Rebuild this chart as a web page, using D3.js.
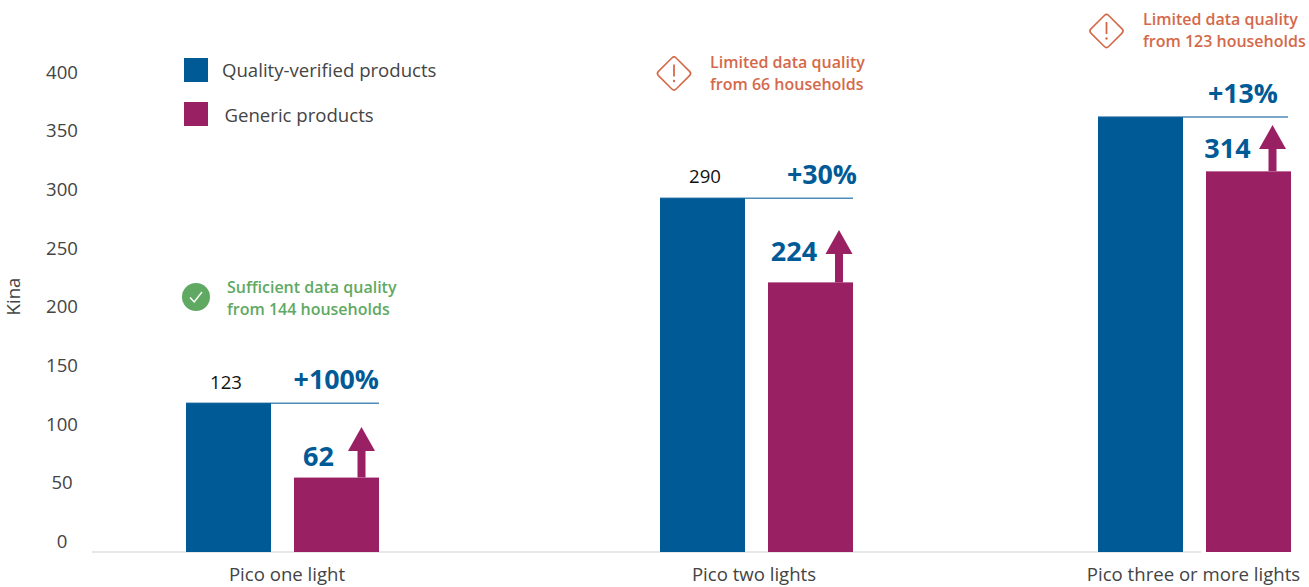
<!DOCTYPE html>
<html>
<head>
<meta charset="utf-8">
<script src="https://cdn.jsdelivr.net/npm/d3@7"></script>
<style>
  html, body { margin: 0; padding: 0; background: #fff; }
  svg { display: block; }
  text { font-family: "Open Sans", sans-serif; }
</style>
</head>
<body>
<svg id="chart" width="1309" height="587"></svg>
<script>
// values
var categories = ["Pico one light", "Pico two lights", "Pico three or more lights"];
var seriesNames = ["Quality-verified products", "Generic products"];
var qualityBars = [122, 290, 356.5];
var genericBars = [61, 221, 312];
var arrowTips = [102.5, 264, 350];
var qualityLabels = ["123", "290", ""];
var genericLabels = ["62", "224", "314"];
var upliftLabels = ["+100%", "+30%", "+13%"];
var tickValues = [0, 50, 100, 150, 200, 250, 300, 350, 400];
var noteLines = [
    ["Sufficient data quality", "from 144 households"],
    ["Limited data quality", "from 66 households"],
    ["Limited data quality", "from 123 households"]
];
var noteKinds = ["ok", "limited", "limited"];

var blue = "#005a96",
    purple = "#9a2064",
    green = "#5fa963",
    orange = "#d4694a",
    textColor = "#444";

var svg = d3.select("#chart");

// group positions are not evenly spaced in the original
var x0 = d3.scaleOrdinal().domain(categories).range([186, 660, 1098]);
var x1 = d3.scaleBand().domain(seriesNames).range([0, 193]).paddingInner(23 / 108);
var y = d3.scaleLinear().domain([0, 400]).range([552, 64]);
// the printed tick labels sit on their own spacing, offset from the baseline
var yTicks = d3.scaleLinear().domain([0, 400]).range([541.4, 72.4]);
var labelX = d3.scaleOrdinal().domain(categories).range([287, 754, 1193.5]);

// y axis labels
var yAxis = svg.append("g")
    .attr("transform", "translate(62,0)")
    .call(d3.axisLeft(yTicks).tickValues(tickValues).tickSize(0));
yAxis.select(".domain").remove();
yAxis.selectAll("text")
    .attr("x", 0)
    .attr("text-anchor", "middle")
    .style("font-family", "'Open Sans', sans-serif")
    .style("font-size", "18.6px")
    .style("fill", textColor);

svg.append("text")
    .attr("transform", "translate(20,296.5) rotate(-90)")
    .attr("text-anchor", "middle")
    .style("font-size", "18.6px")
    .style("fill", textColor)
    .text("Kina");

// baseline, stops short of the last generic bar
svg.append("line")
    .attr("x1", 92).attr("x2", 1201)
    .attr("y1", y(0)).attr("y2", y(0))
    .style("stroke", "#dfe1e4")
    .style("stroke-width", 1.5);

// x axis labels
svg.selectAll(".cat")
    .data(categories)
    .enter().append("text")
    .attr("class", "cat")
    .attr("x", function(d) { return labelX(d); })
    .attr("y", 581)
    .attr("text-anchor", "middle")
    .style("font-size", "18.6px")
    .style("fill", textColor)
    .text(function(d) { return d; });

// reference line level with the blue bar
svg.selectAll(".refline")
    .data(categories)
    .enter().append("line")
    .attr("class", "refline")
    .attr("x1", function(d) { return x0(d); })
    .attr("x2", function(d, i) { return x0(d) + (i == 2 ? 190 : 193); })
    .attr("y1", function(d, i) { return y(qualityBars[i]); })
    .attr("y2", function(d, i) { return y(qualityBars[i]); })
    .style("stroke", "#4f8bb8")
    .style("stroke-width", 1.5);

// bars
svg.selectAll(".bar-quality")
    .data(qualityBars)
    .enter().append("rect")
    .attr("class", "bar-quality")
    .attr("x", function(d, i) { return x0(categories[i]) + x1(seriesNames[0]); })
    .attr("y", function(d) { return y(d); })
    .attr("width", x1.bandwidth())
    .attr("height", function(d) { return y(0) - y(d); })
    .style("fill", blue);

svg.selectAll(".bar-generic")
    .data(genericBars)
    .enter().append("rect")
    .attr("class", "bar-generic")
    .attr("x", function(d, i) { return x0(categories[i]) + x1(seriesNames[1]); })
    .attr("y", function(d) { return y(d); })
    .attr("width", x1.bandwidth())
    .attr("height", function(d) { return y(0) - y(d); })
    .style("fill", purple);

// arrows from the top of the generic bar, right end of the bar
var arrowLine = d3.line();
svg.selectAll(".arrow")
    .data(arrowTips)
    .enter().append("path")
    .attr("class", "arrow")
    .attr("d", function(d, i) {
        var cx = x0(categories[i]) + x1(seriesNames[1]) + [67.5, 71, 66.5][i];
        var tip = y(d), base = y(genericBars[i]), neck = tip + 24;
        return arrowLine([[cx, tip], [cx + 13.5, neck], [cx + 4, neck], [cx + 4, base],
                          [cx - 4, base], [cx - 4, neck], [cx - 13.5, neck]]) + "Z";
    })
    .style("fill", purple);

// labels over the bars
svg.selectAll(".qlabel")
    .data(qualityLabels)
    .enter().append("text")
    .attr("class", "qlabel")
    .attr("x", function(d, i) { return x0(categories[i]) + [40, 45, 41][i]; })
    .attr("y", function(d, i) { return y(qualityBars[i]) - [14, 15, 14][i]; })
    .attr("text-anchor", "middle")
    .style("font-size", "18.6px")
    .style("fill", "#111")
    .text(function(d) { return d; });

svg.selectAll(".glabel")
    .data(genericLabels)
    .enter().append("text")
    .attr("class", "glabel")
    .attr("x", function(d, i) { return x0(categories[i]) + [132.5, 134, 129.5][i]; })
    .attr("y", function(d, i) { return y(genericBars[i]) - [12, 21, 13][i]; })
    .attr("text-anchor", "middle")
    .style("font-size", "27px")
    .style("font-weight", 700)
    .style("fill", blue)
    .text(function(d) { return d; });

svg.selectAll(".uplift")
    .data(upliftLabels)
    .enter().append("text")
    .attr("class", "uplift")
    .attr("x", function(d, i) { return x0(categories[i]) + [193, 197, 180][i]; })
    .attr("y", function(d, i) { return y(qualityBars[i]) - 14; })
    .attr("text-anchor", "end")
    .style("font-size", "26.8px")
    .style("font-weight", 700)
    .style("fill", blue)
    .text(function(d) { return d; });

// legend
var legendRows = [
    { swatchY: 58, textX: 222, textY: 77 },
    { swatchY: 102, textX: 224.5, textY: 122 }
];
var legend = svg.selectAll(".legend")
    .data(seriesNames)
    .enter().append("g")
    .attr("class", "legend");
legend.append("rect")
    .attr("x", 184)
    .attr("y", function(d, i) { return legendRows[i].swatchY; })
    .attr("width", 24)
    .attr("height", 24)
    .style("fill", function(d, i) { return i == 0 ? blue : purple; });
legend.append("text")
    .attr("x", function(d, i) { return legendRows[i].textX; })
    .attr("y", function(d, i) { return legendRows[i].textY; })
    .style("font-size", "18.6px")
    .style("fill", textColor)
    .text(function(d) { return d; });

// data quality notes
var notePos = [
    { iconX: 196, iconY: 297, textX: 227, textY: 293 },
    { iconX: 674, iconY: 73.5, textX: 710, textY: 68 },
    { iconX: 1106.5, iconY: 31, textX: 1143, textY: 25 }
];
var note = svg.selectAll(".note")
    .data(noteLines)
    .enter().append("g")
    .attr("class", "note");

note.each(function(lines, i) {
    var g = d3.select(this), p = notePos[i];
    var color = noteKinds[i] == "ok" ? green : orange;
    var icon = g.append("g").attr("transform", "translate(" + p.iconX + "," + p.iconY + ")");
    if (noteKinds[i] == "ok") {
        icon.append("circle").attr("r", 14).style("fill", green);
        icon.append("path")
            .attr("d", "M-6,0.5L-1.8,5L6,-5")
            .style("fill", "none")
            .style("stroke", "#fff")
            .style("stroke-width", 1.4);
    } else {
        icon.append("rect")
            .attr("x", -12.5).attr("y", -12.5)
            .attr("width", 25).attr("height", 25)
            .attr("rx", 3)
            .attr("transform", "rotate(45)")
            .style("fill", "none")
            .style("stroke", orange)
            .style("stroke-width", 1.6);
        icon.append("line")
            .attr("x1", 0).attr("x2", 0).attr("y1", -9).attr("y2", 3)
            .style("stroke", orange)
            .style("stroke-width", 1.8);
        icon.append("circle").attr("cy", 7.5).attr("r", 1.2).style("fill", orange);
    }
    g.selectAll(".noteline")
        .data(lines)
        .enter().append("text")
        .attr("class", "noteline")
        .attr("x", p.textX)
        .attr("y", function(d, j) { return p.textY + j * 21.5; })
        .style("font-size", "16px")
        .style("font-weight", 600)
        .style("fill", color)
        .text(function(d) { return d; });
});
</script>
</body>
</html>
